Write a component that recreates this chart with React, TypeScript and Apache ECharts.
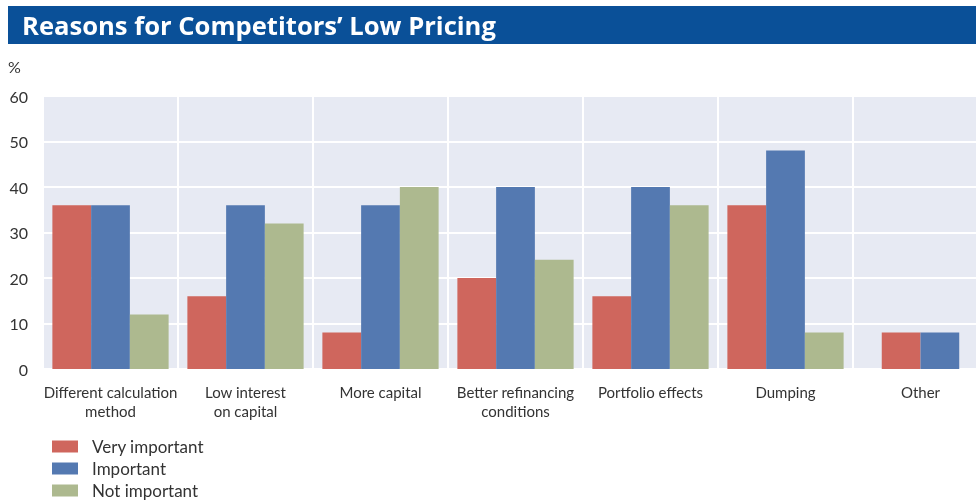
import React, { useEffect, useRef } from "react";
import * as echarts from "echarts";

const categories = [
  "Different calculation\nmethod",
  "Low interest\non capital",
  "More capital",
  "Better refinancing\nconditions",
  "Portfolio effects",
  "Dumping",
  "Other",
];
const seriesNames = ["Very important", "Important", "Not important"];
const veryImportant = [36, 16, 8, 20, 16, 36, 8];
const important = [36, 36, 36, 40, 40, 48, 8];
const notImportant: (number | null)[] = [12, 32, 40, 24, 36, 8, null];
const yTicks = { min: 0, max: 60, interval: 10 };

const colors = ["#CF665D", "#5479B1", "#ADB98F"];
const FONT = "Lato, 'DejaVu Sans', sans-serif";
const TITLE_FONT = "'Open Sans', Lato, sans-serif";

export default function App() {
  const ref = useRef<HTMLDivElement>(null);
  useEffect(() => {
    if (!ref.current) return;
    const chart = echarts.init(ref.current, undefined, { renderer: "svg" });
    const twoBar = notImportant.map((v) => v == null);
    const allSeries = [veryImportant, important, notImportant];
    const barWidth = "28.7%";
    const main = allSeries.map((arr, k) => ({
      name: seriesNames[k],
      type: "bar",
      xAxisIndex: 0,
      barWidth,
      barGap: "0%",
      itemStyle: { color: colors[k] },
      data: arr.map((v, i) => (twoBar[i] || v == null ? "-" : v)),
    }));
    const overlay = [veryImportant, important].map((arr, k) => ({
      name: seriesNames[k],
      type: "bar",
      xAxisIndex: 1,
      barWidth,
      barGap: "0%",
      itemStyle: { color: colors[k] },
      data: arr.map((v, i) => (twoBar[i] ? v : "-")),
    }));
    chart.setOption({
      animation: false,
      textStyle: { fontFamily: FONT },
      graphic: [
        {
          type: "rect",
          shape: { x: 8, y: 6, width: 980, height: 38 },
          style: { fill: "#0A5098" },
        },
        {
          type: "text",
          x: 22,
          y: 25,
          style: {
            text: "Reasons for Competitors\u2019 Low Pricing",
            fill: "#ffffff",
            font: `bold 25.6px ${TITLE_FONT}`,
            verticalAlign: "middle",
          },
        },
        {
          type: "text",
          x: 8,
          y: 66,
          style: {
            text: "%",
            fill: "#333333",
            font: `16px ${FONT}`,
            verticalAlign: "middle",
          },
        },
      ],
      legend: {
        orient: "vertical",
        left: 52,
        top: 438,
        height: 100,
        padding: 0,
        icon: "rect",
        itemWidth: 26,
        itemHeight: 12,
        itemGap: 5,
        data: seriesNames,
        textStyle: { fontSize: 17, color: "#333333", fontFamily: FONT, padding: [0, 0, 0, 9] },
      },
      grid: {
        left: 43,
        width: 945,
        top: 96,
        bottom: 134,
        outerBoundsMode: "none",
        show: true,
        backgroundColor: "#E7EAF3",
        borderWidth: 0,
      },
      xAxis: [
        {
          type: "category",
          data: categories,
          axisLine: { show: false },
          axisTick: { show: false },
          splitLine: { show: true, interval: 0, lineStyle: { color: "#ffffff", width: 2 } },
          axisLabel: {
            interval: 0,
            fontSize: 15,
            lineHeight: 19,
            margin: 13,
            color: "#333333",
            fontFamily: FONT,
          },
        },
        {
          type: "category",
          data: categories,
          show: false,
        },
      ],
      yAxis: {
        type: "value",
        min: yTicks.min,
        max: yTicks.max,
        interval: yTicks.interval,
        axisLine: { show: false },
        axisTick: { show: false },
        splitLine: { lineStyle: { color: "#ffffff", width: 2 } },
        axisLabel: { fontSize: 16, color: "#333333", margin: 15, fontFamily: FONT },
      },
      series: [...main, ...overlay],
    });
    return () => chart.dispose();
  }, []);
  return (
    <div
      ref={ref}
      style={{ position: "fixed", top: 0, left: 0, width: 976, height: 503 }}
    />
  );
}
